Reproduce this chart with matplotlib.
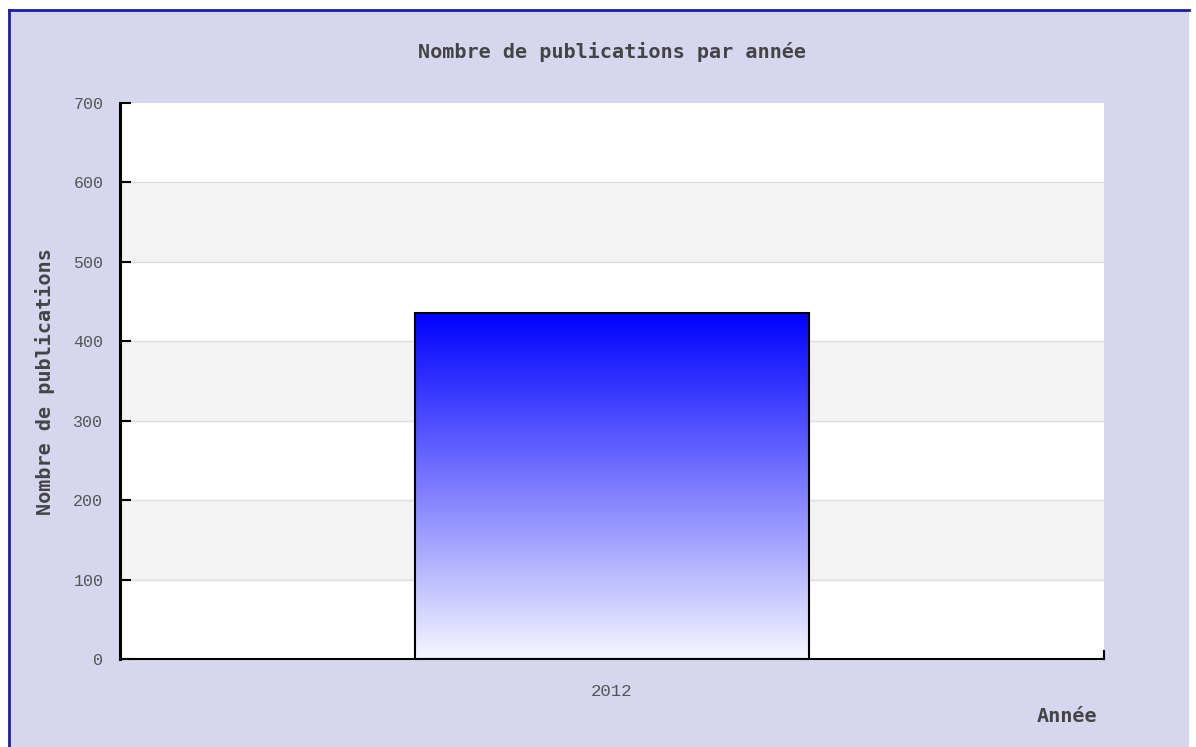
import numpy as np
import matplotlib
matplotlib.use("Agg")
import matplotlib.pyplot as plt
from matplotlib.patches import Rectangle
from matplotlib.colors import LinearSegmentedColormap

categories = ["2012"]
values = [436]
yticks = [0, 100, 200, 300, 400, 500, 600, 700]
title = "Nombre de publications par année"
ylabel = "Nombre de publications"
xlabel = "Année"

W, H = 1196, 747
fig = plt.figure(figsize=(W / 100, H / 100), dpi=100)
fig.patch.set_facecolor("white")

# outer frame
fig.patches.append(Rectangle((9 / W, 0), (1189 - 9) / W, (H - 10) / H,
                             transform=fig.transFigure, facecolor="#d6d6ee",
                             edgecolor="none", zorder=-5))
fig.add_artist(plt.Line2D([9 / W, 9 / W], [0, (H - 10) / H], transform=fig.transFigure,
                          color="#1c1ca8", lw=2, zorder=-4))
fig.add_artist(plt.Line2D([9 / W, 1189 / W], [(H - 10) / H, (H - 10) / H],
                          transform=fig.transFigure, color="#1c1ca8", lw=2, zorder=-4))

ax = fig.add_axes([120 / W, (H - 659) / H, 984 / W, 556 / H])
ax.set_zorder(2)
ax.set_facecolor("white")
ax.set_xlim(-0.5, 0.5)
ax.set_ylim(0, 700)

# alternating bands + grid
for i in range(len(yticks) - 1):
    if i % 2 == 1:
        ax.axhspan(yticks[i], yticks[i + 1], color="#f3f3f3", zorder=0, lw=0)
for t in yticks[1:-1]:
    ax.axhline(t, color="#dddddd", lw=1, zorder=0.5)

x = np.arange(len(categories))
bars = ax.bar(x, values, width=0.4, facecolor="none", edgecolor="black", lw=1.5, zorder=3)

cmap = LinearSegmentedColormap.from_list("g", ["#f6f6ff", "#0000ff"])
grad = np.linspace(0, 1, 256).reshape(-1, 1)
for b in bars:
    x0, y0 = b.get_x(), b.get_y()
    w, h = b.get_width(), b.get_height()
    im = ax.imshow(grad, extent=[x0, x0 + w, y0, y0 + h], origin="lower",
                   cmap=cmap, aspect="auto", zorder=2)
    im.set_clip_path(b)
ax.set_xlim(-0.5, 0.5)
ax.set_ylim(0, 700)

for s in ["top", "right"]:
    ax.spines[s].set_visible(False)
ax.spines["left"].set_linewidth(2.2)
ax.spines["bottom"].set_linewidth(1.5)
ax.spines["left"].set_zorder(5)
ax.spines["bottom"].set_zorder(5)

ax.set_yticks(yticks)
ax.set_yticklabels([str(t) for t in yticks])
ax.tick_params(axis="y", direction="in", length=8, width=1.5, pad=12,
               labelsize=12, labelcolor="#555555")
ax.set_xticks(x)
ax.set_xticklabels(categories)
ax.tick_params(axis="x", length=0, pad=18, labelsize=12.5, labelcolor="#555555")
for lab in ax.get_xticklabels() + ax.get_yticklabels():
    lab.set_family("Liberation Mono")
# small end tick at right of x axis
ax.plot([0.5, 0.5], [0, 10], color="black", lw=1.5, clip_on=False, zorder=6)

fig.text(612 / W, 1 - 52 / H, title, ha="center", va="center", fontsize=14.5,
         fontweight="bold", family="DejaVu Sans Mono", color="#444444")
fig.text(45 / W, 1 - 382 / H, ylabel, ha="center", va="center", rotation=90,
         fontsize=14.5, fontweight="bold", family="DejaVu Sans Mono", color="#444444")
fig.text(1067 / W, 1 - 716 / H, xlabel, ha="center", va="center", fontsize=14.5,
         fontweight="bold", family="DejaVu Sans Mono", color="#444444")

fig.savefig("out.png", dpi=100)
